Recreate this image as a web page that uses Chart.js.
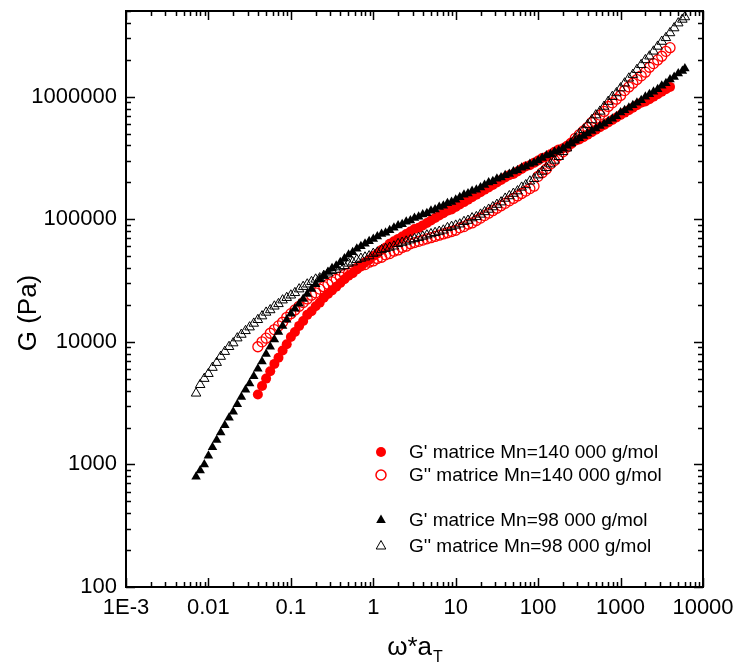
<!DOCTYPE html>
<html>
<head>
<meta charset="utf-8">
<script src="https://cdn.jsdelivr.net/npm/chart.js@4.4.1/dist/chart.umd.min.js"></script>
<style>
  html, body { margin: 0; padding: 0; background: #fff; }
  #wrap { width: 736px; height: 668px; }
</style>
</head>
<body>
<div id="wrap"><canvas id="chart" width="736" height="668"></canvas></div>
<script>
'use strict';

// reduced frequency (rad/s), Mn = 98 000 g/mol matrix
const freq98 = [0.00708, 0.00794, 0.00891,
  0.01, 0.0112, 0.0126, 0.0141, 0.0158, 0.0178, 0.02, 0.0224, 0.0251, 0.0282,
  0.0316, 0.0355, 0.0398, 0.0447, 0.0501, 0.0562, 0.0631, 0.0708, 0.0794, 0.0891,
  0.1, 0.112, 0.126, 0.141, 0.158, 0.178, 0.2, 0.224, 0.251, 0.282,
  0.316, 0.355, 0.398, 0.447, 0.501, 0.562, 0.631, 0.708, 0.794, 0.891,
  1, 1.12, 1.26, 1.41, 1.58, 1.78, 2, 2.24, 2.51, 2.82,
  3.16, 3.55, 3.98, 4.47, 5.01, 5.62, 6.31, 7.08, 7.94, 8.91,
  10, 11.2, 12.6, 14.1, 15.8, 17.8, 20, 22.4, 25.1, 28.2,
  31.6, 35.5, 39.8, 44.7, 50.1, 56.2, 63.1, 70.8, 79.4, 89.1,
  100, 112, 126, 141, 158, 178, 200, 224, 251, 282,
  316, 355, 398, 447, 501, 562, 631, 708, 794, 891,
  1000, 1120, 1260, 1410, 1580, 1780, 2000, 2240, 2510, 2820,
  3160, 3550, 3980, 4470, 5010, 5620, 6030];
const gStorage98 = [794, 891, 1000,
  1175, 1380, 1585, 1820, 2089, 2399, 2692, 3090, 3548, 4074,
  4571, 5248, 6026, 6918, 7943, 9120, 10470, 12020, 13490, 15140,
  16980, 18620, 20420, 22390, 24550, 26920, 29510, 32360, 34670, 37150,
  39810, 41690, 44670, 47860, 51290, 53700, 57540, 60260, 63100, 66070,
  69180, 72440, 75860, 77620, 81280, 85110, 89130, 91200, 95500, 97720,
  102300, 104700, 109600, 112200, 117500, 120200, 125900, 128800, 134900, 138000,
  144500, 151400, 158500, 162200, 169800, 173800, 182000, 190500, 199500, 204200,
  213800, 218800, 229100, 234400, 245500, 251200, 263000, 269200, 281800, 288400,
  302000, 316200, 331100, 338800, 354800, 363100, 380200, 398100, 416900, 436500,
  457100, 478600, 501200, 524800, 549500, 575400, 602600, 631000, 660700, 691800,
  741300, 776200, 812800, 851100, 891300, 933300, 1000000, 1047000, 1096000, 1148000,
  1230000, 1288000, 1380000, 1445000, 1549000, 1622000, 1698000];
const gLoss98 = [3802, 4467, 5012,
  5495, 6166, 6761, 7586, 8318, 9120, 9772, 10720, 11480, 12300,
  13180, 14130, 15140, 16220, 17380, 18200, 19500, 20420, 21880, 22910,
  23990, 25120, 26920, 28180, 29510, 30900, 32360, 33110, 34670, 36310,
  38020, 38900, 40740, 41690, 43650, 44670, 46770, 47860, 48980, 50120,
  52480, 53700, 56230, 57540, 58880, 60260, 63100, 64570, 66070, 67610,
  69180, 70790, 72440, 74130, 75860, 77620, 79430, 81280, 85110, 87100,
  89130, 91200, 95500, 97720, 102300, 104700, 109600, 114800, 120200, 125900,
  131800, 138000, 147900, 154900, 162200, 169800, 182000, 190500, 204200, 213800,
  229100, 245500, 263000, 281800, 302000, 323600, 354800, 380200, 416900, 457100,
  501200, 537000, 588800, 645700, 707900, 758600, 831800, 912000, 1000000, 1072000,
  1175000, 1288000, 1413000, 1514000, 1660000, 1820000, 1995000, 2138000, 2344000, 2570000,
  2818000, 3020000, 3311000, 3631000, 3981000, 4266000, 4467000];

// reduced frequency (rad/s), Mn = 140 000 g/mol matrix
const freq140 = [0.0398, 0.0447, 0.0501, 0.0562, 0.0631, 0.0708, 0.0794, 0.0891,
  0.1, 0.112, 0.126, 0.141, 0.158, 0.178, 0.2, 0.224, 0.251, 0.282,
  0.316, 0.355, 0.398, 0.447, 0.501, 0.562, 0.631, 0.708, 0.794, 0.891,
  1, 1.12, 1.26, 1.41, 1.58, 1.78, 2, 2.24, 2.51, 2.82,
  3.16, 3.55, 3.98, 4.47, 5.01, 5.62, 6.31, 7.08, 7.94, 8.91,
  10, 11.2, 12.6, 14.1, 15.8, 17.8, 20, 22.4, 25.1, 28.2,
  31.6, 35.5, 39.8, 44.7, 50.1, 56.2, 63.1, 70.8, 79.4, 89.1,
  100, 112, 126, 141, 158, 178, 200, 224, 251, 282,
  316, 355, 398, 447, 501, 562, 631, 708, 794, 891,
  1000, 1120, 1260, 1410, 1580, 1780, 2000, 2240, 2510, 2820,
  3160, 3550, 3980];
const gStorage140 = [3715, 4365, 5012, 5754, 6607, 7413, 8511, 9550,
  10960, 12020, 13490, 14790, 16600, 17780, 19500, 20890, 22910, 24550,
  26300, 28180, 30200, 32360, 34670, 36310, 38900, 41690, 44670, 46770,
  50120, 52480, 56230, 58880, 63100, 66070, 69180, 72440, 75860, 79430,
  83180, 85110, 89130, 93330, 97720, 102300, 107200, 112200, 117500, 120200,
  125900, 131800, 138000, 144500, 151400, 158500, 166000, 173800, 182000, 190500,
  199500, 208900, 218800, 229100, 234400, 245500, 257000, 269200, 275400, 288400,
  302000, 316200, 323600, 338800, 354800, 371500, 380200, 398100, 416900, 436500,
  446700, 467700, 489800, 512900, 537000, 562300, 588800, 616600, 645700, 676100,
  707900, 741300, 776200, 812800, 851100, 891300, 912000, 955000, 1000000, 1047000,
  1096000, 1148000, 1202000];
const gLoss140 = [9120, 10000, 10720, 11750, 12590, 13490, 14450, 15850,
  16980, 18200, 19500, 20890, 22390, 23990, 25120, 26920, 28180, 29510,
  30900, 32360, 33880, 35480, 36310, 38020, 39810, 41690, 42660, 44670,
  45710, 47860, 48980, 51290, 52480, 54950, 56230, 58880, 60260, 63100,
  64570, 66070, 67610, 69180, 70790, 72440, 74130, 75860, 77620, 79430,
  81280, 85110, 87100, 91200, 93330, 97720, 102300, 107200, 112200, 117500,
  123000, 128800, 134900, 141300, 147900, 154900, 162200, 169800, 177800, 186200,
  223900, 239900, 257000, 281800, 302000, 331100, 354800, 389000, 416900, 457100,
  489800, 524800, 562300, 616600, 660700, 707900, 758600, 831800, 891300, 955000,
  1023000, 1122000, 1202000, 1288000, 1380000, 1479000, 1585000, 1738000, 1862000, 1995000,
  2138000, 2344000, 2512000];

const xTicks = [0.001, 0.01, 0.1, 1, 10, 100, 1000, 10000];
const yTicks = [100, 1000, 10000, 100000, 1000000];
const seriesLabels = [
  "G' matrice Mn=140 000 g/mol",
  "G'' matrice Mn=140 000 g/mol",
  "G' matrice Mn=98 000 g/mol",
  "G'' matrice Mn=98 000 g/mol"
];

const RED = '#ff0000';
const FONT = '"Liberation Sans", Arial, sans-serif';

function toPoints(xs, ys) {
  const n = Math.min(xs.length, ys.length);
  const pts = [];
  for (let i = 0; i < n; i++) pts.push({ x: xs[i], y: ys[i] });
  return pts;
}

function drawMarker(ctx, kind, x, y) {
  ctx.save();
  ctx.lineWidth = 1.5;
  if (kind === 'disc' || kind === 'ring') {
    ctx.beginPath();
    ctx.arc(x, y, 5, 0, Math.PI * 2);
    if (kind === 'disc') { ctx.fillStyle = RED; ctx.fill(); }
    else { ctx.strokeStyle = RED; ctx.stroke(); }
  } else {
    ctx.beginPath();
    ctx.moveTo(x, y - 5.5);
    ctx.lineTo(x + 4.8, y + 3);
    ctx.lineTo(x - 4.8, y + 3);
    ctx.closePath();
    if (kind === 'tri') { ctx.fillStyle = '#000'; ctx.fill(); }
    else { ctx.lineWidth = 1; ctx.strokeStyle = '#000'; ctx.stroke(); }
  }
  ctx.restore();
}

// frame with inward ticks on all four sides, titles and legend
const framePlugin = {
  id: 'frameTicks',
  afterDatasetsDraw(chart) {
    const { ctx, chartArea: a, scales } = chart;
    const xs = scales.x, ys = scales.y;
    ctx.save();
    ctx.strokeStyle = '#000';
    ctx.lineWidth = 2;
    ctx.strokeRect(a.left, a.top, a.right - a.left, a.bottom - a.top);

    ctx.lineWidth = 1.5;
    ctx.beginPath();
    const tick = (px, len, horiz) => {
      if (horiz) {
        ctx.moveTo(px, a.bottom); ctx.lineTo(px, a.bottom - len);
        ctx.moveTo(px, a.top); ctx.lineTo(px, a.top + len);
      } else {
        ctx.moveTo(a.left, px); ctx.lineTo(a.left + len, px);
        ctx.moveTo(a.right, px); ctx.lineTo(a.right - len, px);
      }
    };
    for (let d = -3; d <= 4; d++) {
      for (let k = 1; k <= 9; k++) {
        const v = k * Math.pow(10, d);
        if (v < xs.min * 0.999 || v > xs.max * 1.001) continue;
        tick(Math.round(xs.getPixelForValue(v)) + 0.5, k === 1 ? 9 : 5, true);
      }
    }
    for (let d = 2; d <= 6; d++) {
      for (let k = 1; k <= 9; k++) {
        const v = k * Math.pow(10, d);
        if (v < ys.min * 0.999 || v > ys.max * 1.001) continue;
        tick(Math.round(ys.getPixelForValue(v)) + 0.5, k === 1 ? 9 : 5, false);
      }
    }
    ctx.stroke();

    // axis titles
    ctx.fillStyle = '#000';
    ctx.font = '26px ' + FONT;
    ctx.textBaseline = 'alphabetic';
    ctx.save();
    ctx.translate(36, 313);
    ctx.rotate(-Math.PI / 2);
    ctx.textAlign = 'center';
    ctx.fillText('G (Pa)', 0, 0);
    ctx.restore();

    const main = '\u03c9*a';
    const mainW = ctx.measureText(main).width;
    ctx.font = '16px ' + FONT;
    const subW = ctx.measureText('T').width;
    const startX = (a.left + a.right) / 2 - (mainW + subW) / 2;
    ctx.font = '26px ' + FONT;
    ctx.textAlign = 'left';
    ctx.fillText(main, startX, 655);
    ctx.font = '16px ' + FONT;
    ctx.fillText('T', startX + mainW + 1, 662);

    // legend
    const kinds = ['disc', 'ring', 'tri', 'otri'];
    const rows = [452, 475, 520, 546];
    ctx.font = '19px ' + FONT;
    ctx.textBaseline = 'middle';
    kinds.forEach((k, i) => {
      drawMarker(ctx, k, 381, rows[i]);
      ctx.fillStyle = '#000';
      ctx.fillText(seriesLabels[i], 409, rows[i] + 1);
    });
    ctx.restore();
  }
};

const datasets = [
  {
    label: seriesLabels[0],
    data: toPoints(freq140, gStorage140),
    pointStyle: 'circle', pointRadius: 5,
    backgroundColor: RED, borderColor: RED, borderWidth: 0,
    order: 3
  },
  {
    label: seriesLabels[1],
    data: toPoints(freq140, gLoss140),
    pointStyle: 'circle', pointRadius: 5,
    backgroundColor: 'rgba(0,0,0,0)', borderColor: RED, borderWidth: 1.3,
    order: 2
  },
  {
    label: seriesLabels[2],
    data: toPoints(freq98, gStorage98),
    pointStyle: 'triangle', pointRadius: 5.5,
    backgroundColor: '#000', borderColor: '#000', borderWidth: 0,
    order: 1
  },
  {
    label: seriesLabels[3],
    data: toPoints(freq98, gLoss98),
    pointStyle: 'triangle', pointRadius: 5.5,
    backgroundColor: 'rgba(0,0,0,0)', borderColor: '#000', borderWidth: 1,
    order: 0
  }
];

new Chart(document.getElementById('chart'), {
  type: 'scatter',
  data: { datasets: datasets },
  options: {
    responsive: false,
    animation: false,
    layout: { padding: { top: 11, right: 33, left: 0, bottom: 0 } },
    plugins: {
      legend: { display: false },
      tooltip: { enabled: false }
    },
    elements: { point: { hoverRadius: 5 } },
    scales: {
      x: {
        type: 'logarithmic',
        min: 0.001,
        max: 10000,
        grid: { display: false, drawTicks: false },
        border: { display: false },
        afterBuildTicks: (scale) => { scale.ticks = xTicks.map(v => ({ value: v })); },
        afterFit: (scale) => {
          scale.height = 81;
          scale.paddingLeft = 0;
          scale.paddingRight = 0;
        },
        ticks: {
          autoSkip: false,
          maxRotation: 0,
          padding: 8,
          color: '#000',
          font: { family: FONT, size: 22 },
          callback: (v) => (v === 0.001 ? '1E-3' : String(v))
        }
      },
      y: {
        type: 'logarithmic',
        min: 100,
        max: 5000000,
        grid: { display: false, drawTicks: false },
        border: { display: false },
        afterBuildTicks: (scale) => { scale.ticks = yTicks.map(v => ({ value: v })); },
        afterFit: (scale) => {
          scale.width = 126;
          scale.paddingTop = 0;
          scale.paddingBottom = 0;
        },
        ticks: {
          autoSkip: false,
          padding: 9,
          color: '#000',
          font: { family: FONT, size: 22 },
          callback: (v) => String(v)
        }
      }
    }
  },
  plugins: [framePlugin]
});
</script>
</body>
</html>
